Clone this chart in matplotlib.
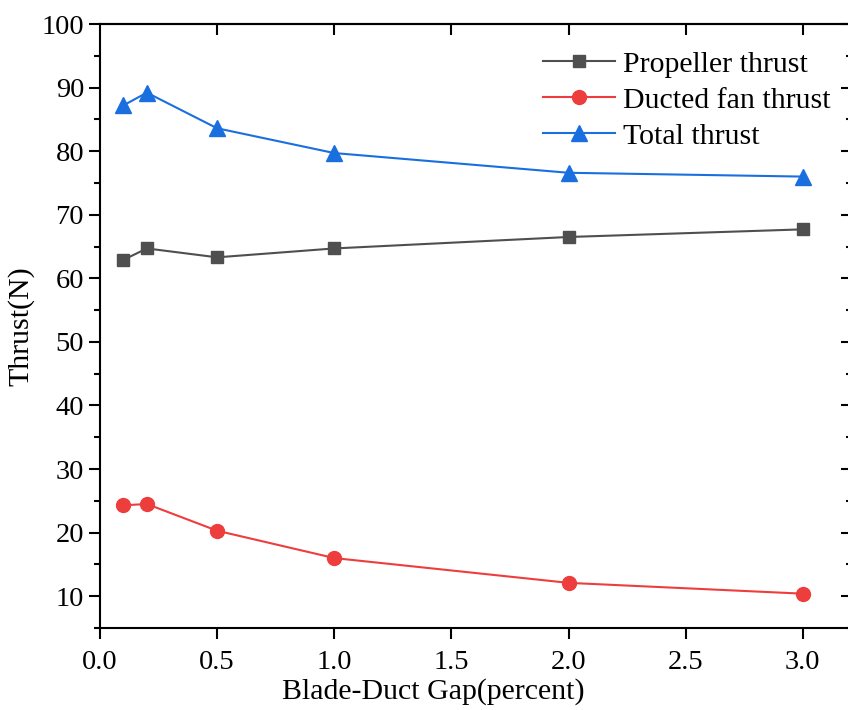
import matplotlib
matplotlib.use("Agg")
import matplotlib.pyplot as plt
from matplotlib.ticker import MultipleLocator, NullFormatter

plt.rcParams['font.family'] = ['Liberation Serif', 'DejaVu Serif']

# data
gap = [0.1, 0.2, 0.5, 1.0, 2.0, 3.0]
propeller = [62.9, 64.7, 63.3, 64.7, 66.5, 67.7]
ducted = [24.3, 24.5, 20.3, 16.0, 12.1, 10.4]
total = [87.2, 89.2, 83.6, 79.7, 76.6, 76.0]

fig = plt.figure(figsize=(8.48, 7.10), dpi=100)
# right spine lies just outside the picture, as in the reference
ax = fig.add_axes([100/848, 82/710, 752/848, 604/710])

ax.plot(gap, propeller, c='#4f4f4f', lw=1.5, marker='s', ms=9, label='Propeller thrust')
ax.plot(gap, ducted, c='#ee3d3d', lw=1.5, marker='o', ms=10, label='Ducted fan thrust')
ax.plot(gap, total, c='#1a6fdf', lw=1.5, marker='^', ms=11.5, label='Total thrust')

ax.set_xlim(0, 3.21)
ax.set_ylim(5, 100)
ax.set_xticks([0, 0.5, 1.0, 1.5, 2.0, 2.5, 3.0])
ax.yaxis.set_major_locator(MultipleLocator(10))
ax.yaxis.set_minor_locator(MultipleLocator(5))
ax.tick_params(which='major', direction='out', length=8, width=1.5, labelsize=20.5)
ax.tick_params(which='minor', direction='out', length=4.5, width=1.5)
ax.tick_params(axis='x', pad=8)
for s in ax.spines.values():
    s.set_linewidth(1.5)

# mirrored ticks pointing inward on top and right
top = ax.secondary_xaxis('top')
top.set_xticks([0.5, 1.0, 1.5, 2.0, 2.5, 3.0])
top.xaxis.set_major_formatter(NullFormatter())
top.tick_params(direction='in', length=8, width=1.5)
top.spines['top'].set_linewidth(1.5)
right = ax.secondary_yaxis('right')
right.yaxis.set_major_locator(MultipleLocator(10))
right.yaxis.set_minor_locator(MultipleLocator(5))
right.yaxis.set_major_formatter(NullFormatter())
right.tick_params(which='major', direction='in', length=8, width=1.5)
right.tick_params(which='minor', direction='in', length=4.5, width=1.5)

ax.set_xlabel('Blade-Duct Gap(percent)', fontsize=21.5)
ax.xaxis.set_label_coords(0.443, -0.083)
ax.set_ylabel('Thrust(N)', fontsize=21.5, labelpad=5)

ax.legend(loc='upper right', bbox_to_anchor=(1.0, 0.99), frameon=False, fontsize=21.5,
          handlelength=2.4, handletextpad=0.3, labelspacing=0.3, borderaxespad=0.3)

fig.savefig('out.png', dpi=100)
